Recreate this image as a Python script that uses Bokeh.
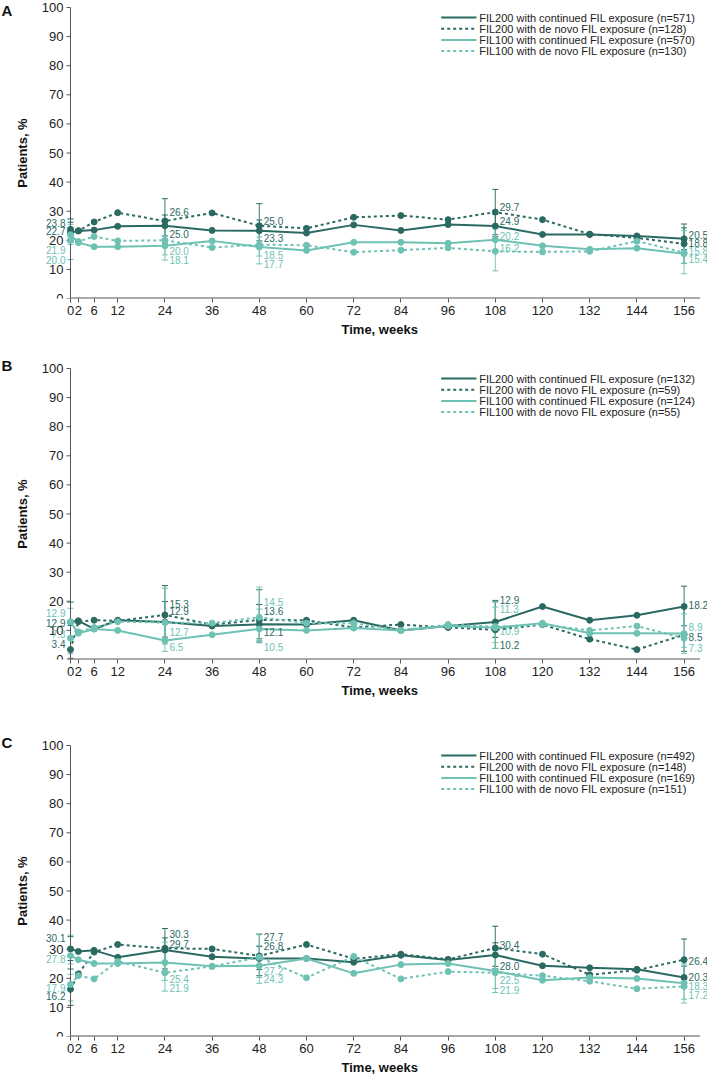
import math
from bokeh.plotting import figure
from bokeh.models import (Range1d, FixedTicker, ColumnDataSource, LabelSet, Whisker, Label, Title)
from bokeh.layouts import column
from bokeh.embed import file_html
from bokeh.resources import INLINE
from bokeh.core.properties import value, field

# ---------------- data ----------------
WEEKS = [0, 2, 6, 12, 24, 36, 48, 60, 72, 84, 96, 108, 120, 132, 144, 156]
CI_WEEKS = [0, 24, 48, 108, 156]
Y_TICKS = [0, 10, 20, 30, 40, 50, 60, 70, 80, 90, 100]
SERIES = ["FIL200 with continued FIL exposure", "FIL200 with de novo FIL exposure",
          "FIL100 with continued FIL exposure", "FIL100 with de novo FIL exposure"]

# Panel A
A_N = [571, 128, 570, 130]
A_FIL200_CONT = [22.7, 23.2, 23.5, 24.8, 25.0, 23.4, 23.3, 22.5, 25.3, 23.4, 25.4, 24.9, 22.0, 22.0, 21.5, 20.5]
A_FIL200_NOVO = [23.8, 23.3, 26.3, 29.5, 26.6, 29.4, 25.0, 24.1, 27.9, 28.5, 27.1, 29.7, 27.1, 22.1, 20.8, 18.8]
A_FIL100_CONT = [21.9, 19.2, 17.8, 17.8, 18.1, 19.8, 17.7, 16.5, 19.3, 19.3, 19.0, 20.2, 18.1, 16.9, 17.3, 15.4]
A_FIL100_NOVO = [20.0, 19.6, 21.3, 19.8, 20.0, 17.5, 18.5, 18.3, 15.9, 16.6, 17.4, 16.2, 16.0, 16.2, 19.7, 15.8]
A_FIL200_CONT_LO = [19.4, 21.5, 19.8, 21.2, 16.8]
A_FIL200_CONT_HI = [26.2, 28.7, 27.0, 28.9, 24.3]
A_FIL200_NOVO_LO = [19.5, 19.0, 17.8, 21.9, 12.1]
A_FIL200_NOVO_HI = [27.4, 34.3, 32.6, 37.5, 25.6]
A_FIL100_CONT_LO = [18.6, 15.0, 14.6, 16.8, 12.0]
A_FIL100_CONT_HI = [25.5, 21.5, 21.1, 23.9, 19.0]
A_FIL100_NOVO_LO = [13.4, 13.2, 11.9, 9.5, 8.5]
A_FIL100_NOVO_HI = [27.3, 27.3, 25.6, 24.9, 23.3]

# Panel B
B_N = [132, 59, 124, 55]
B_FIL200_CONT = [12.9, 13.3, 10.5, 13.5, 12.9, 11.5, 12.1, 12.0, 13.5, 10.0, 11.5, 12.9, 18.2, 13.5, 15.2, 18.2]
B_FIL200_NOVO = [3.4, 13.0, 13.5, 13.3, 15.3, 12.0, 13.6, 13.5, 11.0, 12.0, 11.0, 10.2, 12.0, 7.0, 3.4, 8.5]
B_FIL100_CONT = [12.9, 9.0, 10.5, 10.0, 6.5, 8.5, 10.5, 10.0, 10.8, 10.0, 11.5, 10.9, 12.5, 9.0, 9.0, 8.9]
B_FIL100_NOVO = [7.3, 9.5, 11.0, 13.0, 12.7, 12.5, 14.5, 12.5, 12.5, 10.0, 12.0, 11.3, 12.0, 10.0, 11.5, 7.3]
B_FIL200_CONT_LO = [7.8, 7.7, 7.1, 7.6, 11.6]
B_FIL200_CONT_HI = [19.7, 19.9, 18.9, 20.3, 25.2]
B_FIL200_NOVO_LO = [0.4, 6.9, 6.0, 3.8, 2.8]
B_FIL200_NOVO_HI = [11.7, 25.4, 24.0, 19.8, 18.7]
B_FIL100_CONT_LO = [7.6, 2.8, 5.7, 5.8, 4.2]
B_FIL100_CONT_HI = [19.7, 12.3, 17.3, 18.0, 15.7]
B_FIL100_NOVO_LO = [2.0, 5.3, 6.5, 3.8, 2.0]
B_FIL100_NOVO_HI = [17.6, 24.5, 24.9, 20.0, 17.6]

# Panel C
C_N = [492, 148, 169, 151]
C_FIL200_CONT = [30.1, 29.2, 29.6, 27.2, 29.7, 27.4, 26.8, 26.8, 25.5, 27.9, 26.3, 28.0, 24.3, 23.6, 23.1, 20.3]
C_FIL200_NOVO = [16.2, 21.5, 29.0, 31.6, 30.3, 30.1, 27.7, 31.6, 26.7, 28.3, 26.5, 30.4, 28.3, 21.2, 22.8, 26.4]
C_FIL100_CONT = [27.8, 26.4, 25.1, 25.1, 25.4, 24.1, 24.3, 26.8, 21.7, 24.7, 25.1, 22.5, 19.3, 20.3, 19.9, 18.3]
C_FIL100_NOVO = [17.9, 20.9, 19.8, 25.8, 21.9, 24.1, 27.2, 20.2, 27.5, 19.8, 22.3, 21.9, 20.9, 19.0, 16.4, 17.2]
C_FIL200_CONT_LO = [26.1, 25.8, 23.0, 24.1, 16.8]
C_FIL200_CONT_HI = [34.3, 33.9, 30.9, 32.2, 24.2]
C_FIL200_NOVO_LO = [10.7, 23.2, 20.9, 23.3, 19.6]
C_FIL200_NOVO_HI = [23.2, 37.1, 35.2, 37.9, 33.5]
C_FIL100_CONT_LO = [21.4, 19.3, 18.3, 16.5, 12.8]
C_FIL100_CONT_HI = [34.8, 32.4, 31.2, 29.5, 25.0]
C_FIL100_NOVO_LO = [12.2, 15.6, 20.3, 15.1, 11.5]
C_FIL100_NOVO_HI = [24.9, 29.3, 35.0, 29.5, 24.3]

# ---------------- style / layout ----------------
DARK = "#2b6a62"
LIGHT = "#6ec2b4"
AXIS = "#555555"
COLORS = [DARK, DARK, LIGHT, LIGHT]
DASHES = ["solid", "3 3", "solid", "3 3"]
FONT = "Liberation Sans"
WIDTH = 707
BOTTOM = 42
X0, X1 = -17.8, 161.95          # frame covers the whole width; y axis drawn at x=0
X_END = 160                     # end of the drawn x axis line
X_PPU = WIDTH / (X1 - X0)
# legend placement (pixels)
LEG_GLYPH_PX = (440.7, 476.0)
LEG_TEXT_PX = 478.7
LEG_ROW0_PX = 10.0              # first row below the 100 line
LEG_ROW_STEP_PX = 11.2

# label vertical nudges (data units), order: FIL200 cont, FIL200 novo, FIL100 cont, FIL100 novo
DY_A = {0: [0.4, 2.1, -5.4, -6.6], 24: [-2.8, 3.0, -5.0, -3.8], 48: [-2.5, 1.7, -5.7, -3.4],
        108: [1.8, 1.6, 1.4, 1.2], 156: [1.3, 0.4, -1.9, 0.6]}
DY_B = {0: [-0.4, 2.0, 3.0, 1.5], 24: [3.7, 3.8, -2.1, -3.2], 48: [-2.8, 3.0, -6.2, 5.2],
        108: [7.4, -5.3, -1.0, 6.1], 156: [0.6, -0.9, 2.2, -3.5]}
DY_C = {0: [3.9, -2.3, -1.3, -1.1], 24: [2.0, 4.8, -5.6, -5.3], 48: [4.4, 6.5, -4.5, -4.6],
        108: [-3.7, 1.2, -3.1, -5.9], 156: [0.1, -0.4, -0.8, -2.9]}


def make_panel(letter, ns, vals, los, his, dys, height, top_px):
    frame_h = height - BOTTOM
    ppu = (frame_h - top_px) / 100.0
    y_top = frame_h / ppu
    p = figure(width=WIDTH, height=height, x_range=Range1d(X0, X1), y_range=Range1d(0, y_top),
               output_backend="svg", toolbar_location=None,
               min_border_left=0, min_border_right=0, min_border_top=0,
               min_border_bottom=BOTTOM)
    p.outline_line_color = None
    p.xgrid.visible = False
    p.ygrid.visible = False
    p.yaxis.visible = False

    xa = p.xaxis[0]
    xa.ticker = FixedTicker(ticks=WEEKS)
    xa.major_label_text_font = FONT
    xa.major_label_text_font_size = "13px"
    xa.major_label_text_color = "#222222"
    xa.major_tick_in = 0
    xa.major_tick_out = 4
    xa.minor_tick_out = 0
    xa.minor_tick_in = 0
    xa.axis_line_color = None
    xa.major_tick_line_color = AXIS
    xa.major_label_standoff = 3
    p.add_layout(Title(text="Time, weeks", align="left", offset=341, text_font=FONT,
                       text_font_size="13px", text_font_style="bold", text_color="#111111",
                       standoff=5), "below")

    # axis lines
    p.segment(x0=[0], y0=[0], x1=[X_END], y1=[0], line_color=AXIS, line_width=2)
    p.segment(x0=[0], y0=[0], x1=[0], y1=[100], line_color=AXIS, line_width=1)
    # y ticks + labels
    tick_len = 4 / X_PPU
    p.segment(x0=[0] * len(Y_TICKS), y0=Y_TICKS, x1=[-tick_len] * len(Y_TICKS), y1=Y_TICKS,
              line_color=AXIS, line_width=1)
    p.text(x=[0] * len(Y_TICKS), y=Y_TICKS, text=[str(t) for t in Y_TICKS], x_offset=-7,
           text_align="right", text_baseline="middle", text_font=value(FONT),
           text_font_size=value("13px"), text_color="#222222")
    p.add_layout(Label(x=X0 + 21.7 / X_PPU, y=50, text="Patients, %", angle=math.pi / 2,
                       text_align="center", text_baseline="middle", text_font=FONT,
                       text_font_size="13px", text_font_style="bold", text_color="#111111"))

    order = [1, 0, 3, 2]
    for i in order:
        src = ColumnDataSource(dict(x=WEEKS, y=vals[i]))
        p.line("x", "y", source=src, line_color=COLORS[i], line_width=2, line_dash=DASHES[i])
        p.scatter("x", "y", source=src, size=6, color=COLORS[i])

    for i in order:
        csrc = ColumnDataSource(dict(x=CI_WEEKS, lo=los[i], hi=his[i]))
        w = Whisker(source=csrc, base="x", lower="lo", upper="hi",
                    line_color=COLORS[i], line_width=1, line_alpha=0.9)
        w.upper_head.size = 6
        w.lower_head.size = 6
        w.upper_head.line_color = COLORS[i]
        w.lower_head.line_color = COLORS[i]
        p.add_layout(w)

    left = dict(x=[], y=[], text=[], color=[])
    right = dict(x=[], y=[], text=[], color=[])
    for wk in CI_WEEKS:
        k = WEEKS.index(wk)
        for i in range(4):
            v = vals[i][k]
            d = left if wk == 0 else right
            d["x"].append(wk)
            d["y"].append(v + dys[wk][i])
            d["text"].append(f"{v:.1f}")
            d["color"].append(COLORS[i])
    for d, align, off in ((left, "right", -5), (right, "left", 4.5)):
        ls = LabelSet(x="x", y="y", text="text", source=ColumnDataSource(d),
                      text_color=field("color"), text_font=value(FONT),
                      text_font_size=value("10px"), text_align=align,
                      text_baseline="middle", x_offset=off)
        p.add_layout(ls)

    # legend (drawn inside the frame)
    gx0 = X0 + LEG_GLYPH_PX[0] / X_PPU
    gx1 = X0 + LEG_GLYPH_PX[1] / X_PPU
    tx = X0 + LEG_TEXT_PX / X_PPU
    for j in range(4):
        y = 100 - (LEG_ROW0_PX + j * LEG_ROW_STEP_PX) / ppu
        p.segment(x0=[gx0], y0=[y], x1=[gx1], y1=[y], line_color=COLORS[j], line_width=2,
                  line_dash=DASHES[j])
        p.text(x=[tx], y=[y], text=[f"{SERIES[j]} (n={ns[j]})"], text_align="left",
               text_baseline="middle", text_font=value(FONT), text_font_size=value("11px"),
               text_color="#222222")

    letter_top = max(1, top_px - 12)
    p.add_layout(Label(x=X0 + 1 / X_PPU, y=y_top - letter_top / ppu, text=letter, text_font=FONT,
                       text_font_style="bold", text_font_size="15px",
                       text_baseline="top", text_align="left", text_color="#111111"))
    return p


pA = make_panel("A", A_N, [A_FIL200_CONT, A_FIL200_NOVO, A_FIL100_CONT, A_FIL100_NOVO],
                [A_FIL200_CONT_LO, A_FIL200_NOVO_LO, A_FIL100_CONT_LO, A_FIL100_NOVO_LO],
                [A_FIL200_CONT_HI, A_FIL200_NOVO_HI, A_FIL100_CONT_HI, A_FIL100_NOVO_HI],
                DY_A, 340, 7)
pB = make_panel("B", B_N, [B_FIL200_CONT, B_FIL200_NOVO, B_FIL100_CONT, B_FIL100_NOVO],
                [B_FIL200_CONT_LO, B_FIL200_NOVO_LO, B_FIL100_CONT_LO, B_FIL100_NOVO_LO],
                [B_FIL200_CONT_HI, B_FIL200_NOVO_HI, B_FIL100_CONT_HI, B_FIL100_NOVO_HI],
                DY_B, 361, 28)
pC = make_panel("C", C_N, [C_FIL200_CONT, C_FIL200_NOVO, C_FIL100_CONT, C_FIL100_NOVO],
                [C_FIL200_CONT_LO, C_FIL200_NOVO_LO, C_FIL100_CONT_LO, C_FIL100_NOVO_LO],
                [C_FIL200_CONT_HI, C_FIL200_NOVO_HI, C_FIL100_CONT_HI, C_FIL100_NOVO_HI],
                DY_C, 377, 44)

layout = column(pA, pB, pC, spacing=0)
open("out.html", "w").write(file_html(layout, INLINE))
